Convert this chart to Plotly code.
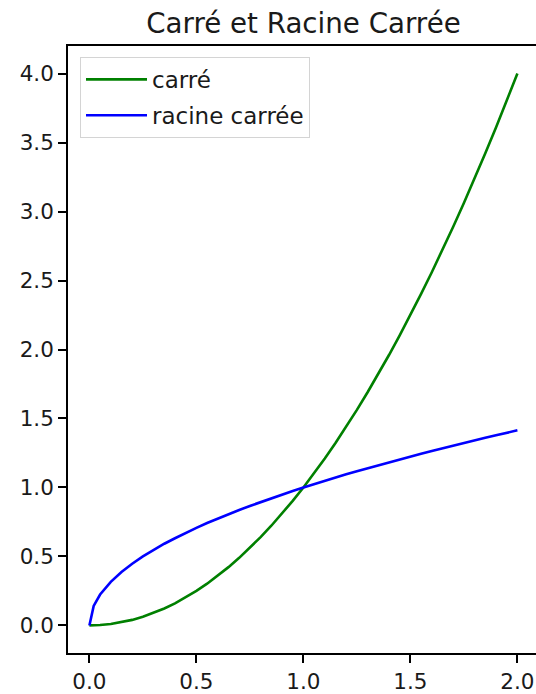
import plotly.graph_objects as go

# Values
x_vals = [0.0, 0.02, 0.05, 0.1, 0.15, 0.2, 0.25, 0.3, 0.35, 0.4, 0.45, 0.5, 0.55, 0.6, 0.65,
          0.7, 0.75, 0.8, 0.85, 0.9, 0.95, 1.0, 1.05, 1.1, 1.15, 1.2, 1.25, 1.3, 1.35, 1.4,
          1.45, 1.5, 1.55, 1.6, 1.65, 1.7, 1.75, 1.8, 1.85, 1.9, 1.95, 2.0]
carre = [0.0, 0.0004, 0.0025, 0.01, 0.0225, 0.04, 0.0625, 0.09, 0.1225, 0.16, 0.2025, 0.25,
         0.3025, 0.36, 0.4225, 0.49, 0.5625, 0.64, 0.7225, 0.81, 0.9025, 1.0, 1.1025, 1.21,
         1.3225, 1.44, 1.5625, 1.69, 1.8225, 1.96, 2.1025, 2.25, 2.4025, 2.56, 2.7225, 2.89,
         3.0625, 3.24, 3.4225, 3.61, 3.8025, 4.0]
racine = [0.0, 0.141, 0.224, 0.316, 0.387, 0.447, 0.5, 0.548, 0.592, 0.632, 0.671, 0.707,
          0.742, 0.775, 0.806, 0.837, 0.866, 0.894, 0.922, 0.949, 0.975, 1.0, 1.025, 1.049,
          1.072, 1.095, 1.118, 1.14, 1.162, 1.183, 1.204, 1.225, 1.245, 1.265, 1.285, 1.304,
          1.323, 1.342, 1.36, 1.378, 1.396, 1.414]
x_ticks = [0.0, 0.5, 1.0, 1.5, 2.0]
x_tick_labels = ["0.0", "0.5", "1.0", "1.5", "2.0"]
y_ticks = [0.0, 0.5, 1.0, 1.5, 2.0, 2.5, 3.0, 3.5, 4.0]
y_tick_labels = ["0.0", "0.5", "1.0", "1.5", "2.0", "2.5", "3.0", "3.5", "4.0"]

FONT = "DejaVu Sans"
TXT = "#1a1a1a"

fig = go.Figure()
fig.add_trace(go.Scatter(x=x_vals, y=carre, mode="lines", name="carré",
                         line=dict(color="#008000", width=2.6), legendgroup="a"))
fig.add_trace(go.Scatter(x=x_vals, y=racine, mode="lines", name="racine carrée",
                         line=dict(color="#0000ff", width=2.6), legendgroup="b"))

axis_common = dict(showgrid=False, zeroline=False, showline=True, linecolor="#000000",
                   linewidth=1.6, ticks="outside", ticklen=8, tickwidth=1.5,
                   tickcolor="#000000", tickfont=dict(family=FONT, size=21.5, color=TXT))

fig.update_layout(
    width=536, height=694,
    margin=dict(l=68, r=0, t=46, b=39),
    paper_bgcolor="white", plot_bgcolor="white",
    font=dict(family=FONT, color=TXT),
    title=dict(text="Carré et Racine Carrée", x=303.5 / 536, xref="container",
               xanchor="center", y=1 - 23 / 694, yref="container", yanchor="middle",
               font=dict(family=FONT, size=27.7, color=TXT)),
    xaxis=dict(range=[-0.1, -0.1 + 468 / 214], tickvals=x_ticks, ticktext=x_tick_labels,
               mirror=True, **axis_common),
    yaxis=dict(range=[-0.2, 4.2], tickvals=y_ticks, ticktext=y_tick_labels, **axis_common),
    legend=dict(x=(80 - 68) / 468, y=(655 - 57) / 609, xanchor="left", yanchor="top",
                bgcolor="rgba(255,255,255,0.85)", bordercolor="#d4d4d4", borderwidth=1,
                font=dict(family=FONT, size=23, color=TXT), traceorder="grouped",
                tracegroupgap=3, itemwidth=61),
    showlegend=True,
)

fig.write_html("out.html")
